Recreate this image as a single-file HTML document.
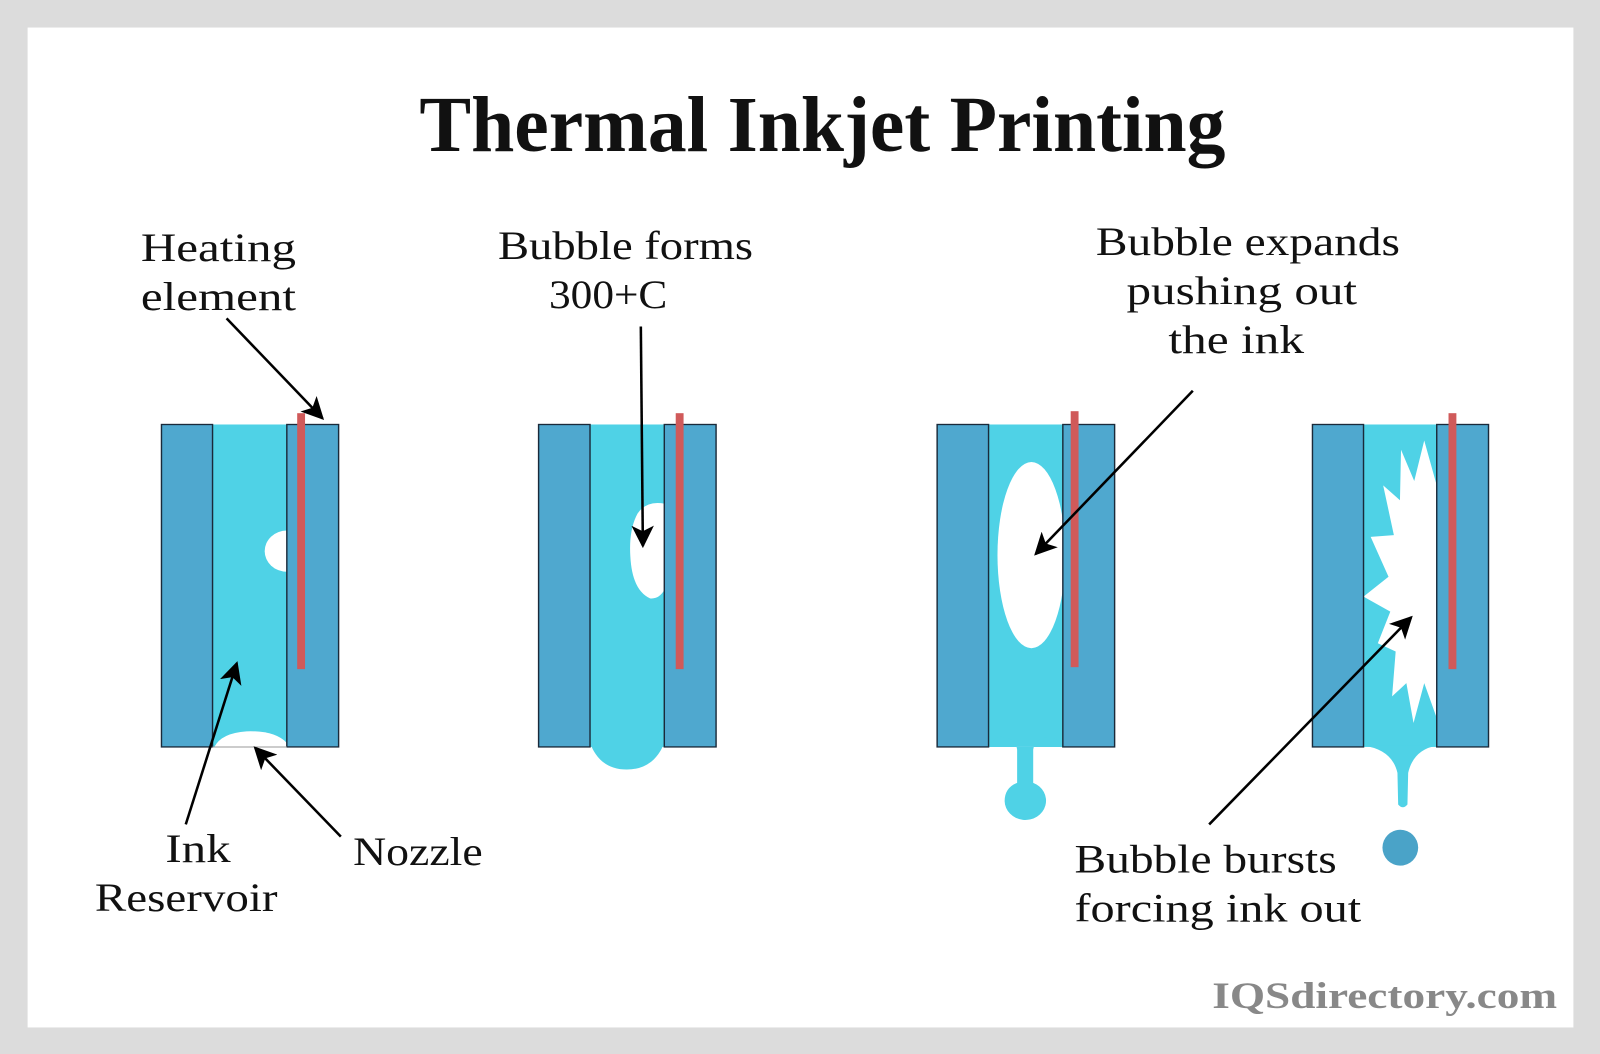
<!DOCTYPE html>
<html><head><meta charset="utf-8"><style>
html,body{margin:0;padding:0;background:#dcdcdc;}
svg{display:block;}
text{font-family:"Liberation Serif",serif;fill:#111;}
</style></head><body>
<svg width="1600" height="1054" viewBox="0 0 1568 1033" xmlns="http://www.w3.org/2000/svg">
<defs>
<marker id="a" viewBox="0 0 10 10" refX="9" refY="5" markerWidth="22" markerHeight="22" markerUnits="userSpaceOnUse" orient="auto"><path d="M0,0 L10,5 L0,10 L2.5,5 z" fill="#000"/></marker>
</defs>
<rect x="0" y="0" width="1568" height="1033" fill="#dcdcdc"/>
<rect x="27" y="27" width="1515" height="980" fill="#fff"/>

<text x="806" y="148" font-size="78" font-weight="bold" text-anchor="middle" textLength="790" lengthAdjust="spacingAndGlyphs">Thermal Inkjet Printing</text>

<g transform="translate(147,382.8) scale(0.35,0.3258)" stroke-width="4">
 <rect x="175" y="102" width="208" height="970" fill="#4fd2e6"/>
 <circle cx="383" cy="483" r="62" fill="#fff"/>
 <path d="M180,1072 Q200,1030 270,1025 Q350,1022 383,1060 L383,1072 Z" fill="#fff"/>
 <rect x="32" y="102" width="143" height="970" fill="#4fa8cf" stroke="#1a2a3a"/>
 <rect x="383" y="102" width="145" height="970" fill="#4fa8cf" stroke="#1a2a3a"/>
 <line x1="175" y1="1072" x2="383" y2="1072" stroke="#999" stroke-width="3"/>
 <rect x="412" y="68" width="22" height="770" fill="#d05a5a"/>

 <rect x="1232" y="102" width="208" height="970" fill="#4fd2e6"/>
 <path d="M1232,1060 Q1260,1140 1335,1140 Q1410,1140 1440,1060 Z" fill="#4fd2e6"/>
 <path d="M1440,340 Q1390,330 1365,370 Q1340,420 1345,500 Q1350,600 1400,625 Q1425,628 1440,600 Z" fill="#fff"/>
 <rect x="1088" y="102" width="144" height="970" fill="#4fa8cf" stroke="#1a2a3a"/>
 <rect x="1440" y="102" width="145" height="970" fill="#4fa8cf" stroke="#1a2a3a"/>
 <rect x="1472" y="68" width="22" height="770" fill="#d05a5a"/>
</g>

<g transform="translate(891.8,382.8) scale(0.35,0.3258)" stroke-width="4">
 <rect x="220" y="102" width="208" height="970" fill="#4fd2e6"/>
 <ellipse cx="340" cy="495" rx="95" ry="280" fill="#fff"/>
 <path d="M220,1072 Q235,1040 260,1042 Q295,1045 300,1080 L300,1180 Q265,1195 265,1235 A58,58 0 1 0 345,1180 L345,1080 Q350,1045 385,1042 Q410,1040 428,1072 Z" fill="#4fd2e6"/>
 <rect x="76" y="102" width="144" height="970" fill="#4fa8cf" stroke="#1a2a3a"/>
 <rect x="428" y="102" width="145" height="970" fill="#4fa8cf" stroke="#1a2a3a"/>
 <rect x="450" y="62" width="22" height="770" fill="#d05a5a"/>

 <rect x="1270" y="102" width="205" height="970" fill="#4fd2e6"/>
 <polygon points="1475,285 1440,150 1412,272 1375,178 1372,330 1325,285 1355,435 1290,440 1340,560 1270,620 1345,665 1310,760 1360,785 1350,920 1390,880 1410,1000 1440,880 1475,985" fill="#fff"/>
 <path d="M1270,1068 Q1350,1080 1365,1150 L1367,1245 Q1380,1262 1393,1245 L1395,1150 Q1410,1080 1475,1068 Z" fill="#4fd2e6"/>
 <ellipse cx="1373" cy="1375" rx="50" ry="54" fill="#4aa3c8"/>
 <rect x="1127" y="102" width="143" height="970" fill="#4fa8cf" stroke="#1a2a3a"/>
 <rect x="1475" y="102" width="145" height="970" fill="#4fa8cf" stroke="#1a2a3a"/>
 <rect x="1508" y="68" width="22" height="770" fill="#d05a5a"/>
</g>

<g stroke="#000" stroke-width="2.5" fill="none" marker-end="url(#a)">
 <line x1="222" y1="312" x2="316" y2="410"/>
 <line x1="628" y1="320" x2="630" y2="535"/>
 <line x1="1169" y1="383" x2="1015" y2="543"/>
 <line x1="182" y1="808" x2="232" y2="650"/>
 <line x1="334" y1="820" x2="250" y2="733"/>
 <line x1="1185" y1="808" x2="1383" y2="605"/>
</g>

<g font-size="39">
 <text x="138" y="256" textLength="152" lengthAdjust="spacingAndGlyphs">Heating</text>
 <text x="138" y="304" textLength="152" lengthAdjust="spacingAndGlyphs">element</text>
 <text x="488" y="254" textLength="250" lengthAdjust="spacingAndGlyphs">Bubble forms</text>
 <text x="538" y="302" textLength="116" lengthAdjust="spacingAndGlyphs">300+C</text>
 <text x="1074" y="250" textLength="298" lengthAdjust="spacingAndGlyphs">Bubble expands</text>
 <text x="1104" y="298" textLength="226" lengthAdjust="spacingAndGlyphs">pushing out</text>
 <text x="1145" y="346" textLength="133" lengthAdjust="spacingAndGlyphs">the ink</text>
 <text x="162" y="845" textLength="64" lengthAdjust="spacingAndGlyphs">Ink</text>
 <text x="93" y="893" textLength="179" lengthAdjust="spacingAndGlyphs">Reservoir</text>
 <text x="346" y="848" textLength="127" lengthAdjust="spacingAndGlyphs">Nozzle</text>
 <text x="1053" y="855" textLength="257" lengthAdjust="spacingAndGlyphs">Bubble bursts</text>
 <text x="1053" y="903" textLength="281" lengthAdjust="spacingAndGlyphs">forcing ink out</text>
</g>
<text x="1526" y="988" font-size="36" font-weight="bold" text-anchor="end" style="fill:#888" textLength="338" lengthAdjust="spacingAndGlyphs">IQSdirectory.com</text>
</svg>
</body></html>
